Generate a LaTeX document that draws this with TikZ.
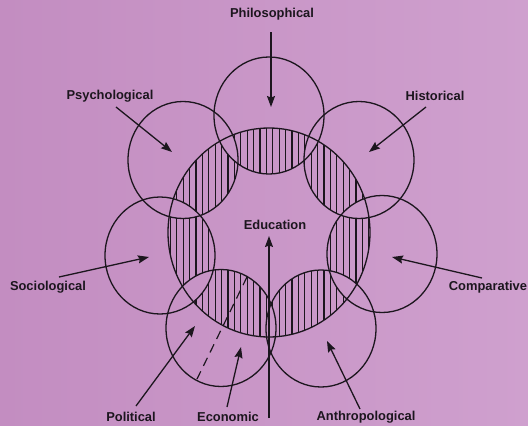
\documentclass[tikz,border=0pt]{standalone}
\usepackage{fontspec}
\setmainfont{Liberation Sans}
\usetikzlibrary{arrows.meta}
\definecolor{bgleft}{RGB}{195,141,193}
\definecolor{bgright}{RGB}{207,160,206}
\definecolor{ink}{RGB}{28,22,30}
\begin{document}
\begin{tikzpicture}[x=1pt,y=-1pt,
  lbl/.style={font=\bfseries\fontsize{12.9}{15}\selectfont, text=ink, inner sep=0pt},
  ring/.style={draw=ink, line width=1.3pt},
  arr/.style={draw=ink, line width=1.3pt, -{Stealth[length=11pt,width=8pt,inset=1.5pt]}},
  hatchline/.style={draw=ink, line width=1.15pt}
]
\useasboundingbox (0,0) rectangle (528,426);
\shade[left color=bgleft, right color=bgright] (0,0) rectangle (528,426);

% circle centres
\coordinate (C)  at (269,232.5);
\coordinate (Ph) at (269,115.5);
\coordinate (Hi) at (359,160);
\coordinate (Ps) at (183,160);
\coordinate (Co) at (382,254);
\coordinate (So) at (160,255.5);
\coordinate (Po) at (221,328);
\coordinate (An) at (321,328.5);

% hatched zones: inside central circle and inside exactly one outer circle
\begin{scope}[even odd rule]
  \clip (C) ellipse [x radius=101pt, y radius=104.5pt];
  \clip
    (Ph) ellipse [x radius=55pt, y radius=58.5pt]
    (Hi) ellipse [x radius=55pt, y radius=58.5pt]
    (Ps) ellipse [x radius=55pt, y radius=58.5pt]
    (Co) ellipse [x radius=55pt, y radius=58.5pt]
    (So) ellipse [x radius=55pt, y radius=58.5pt]
    (Po) ellipse [x radius=55pt, y radius=58.5pt]
    (An) ellipse [x radius=55pt, y radius=58.5pt];
  \foreach \i in {0,...,33}
    \draw[hatchline] ({164+6.4*\i},120) -- ({164+6.4*\i},345);
\end{scope}

% circles
\draw[ring] (C) ellipse [x radius=101pt, y radius=104.5pt];
\foreach \c in {Ph,Hi,Ps,Co,So,Po,An}
  \draw[ring] (\c) ellipse [x radius=55pt, y radius=58.5pt];

% dashed line in political circle
\coordinate (d1) at (247,277);
\coordinate (d2) at (197,379);
\draw[ink, line width=1.2pt, dash pattern=on 9pt off 6pt] (d1) -- (d2);

% labels
\node[lbl] (lPh) at (272,14.5) {Philosophical};
\node[lbl] (lPs) at (110,96.5) {Psychological};
\node[lbl] (lHi) at (435,96) {Historical};
\node[lbl] (lSo) at (48,287) {Sociological};
\node[lbl] (lCo) at (488,287) {Comparative};
\node[lbl] (lEd) at (275,225) {Education};
\node[lbl] (lPo) at (131,417) {Political};
\node[lbl] (lEc) at (228,417) {Economic};
\node[lbl] (lAn) at (366,417) {Anthropological};

% arrow end points
\coordinate (sPh) at (271,32);   \coordinate (tPh) at (271,107);
\coordinate (sPs) at (116,107);  \coordinate (tPs) at (172,152);
\coordinate (sHi) at (426,107);  \coordinate (tHi) at (369,152);
\coordinate (sSo) at (59,277);   \coordinate (tSo) at (149,257);
\coordinate (sCo) at (482,278);  \coordinate (tCo) at (392,257);
\coordinate (sEd) at (269,418);  \coordinate (tEd) at (269,236);
\coordinate (sPo) at (136,406);  \coordinate (tPo) at (195,326);
\coordinate (sEc) at (227,407);  \coordinate (tEc) at (241,347);
\coordinate (sAn) at (360,409);  \coordinate (tAn) at (327,341);

\foreach \a in {Ph,Ps,Hi,So,Co,Ed,Po,Ec,An}
  \draw[arr] (s\a) -- (t\a);
\end{tikzpicture}
\end{document}
